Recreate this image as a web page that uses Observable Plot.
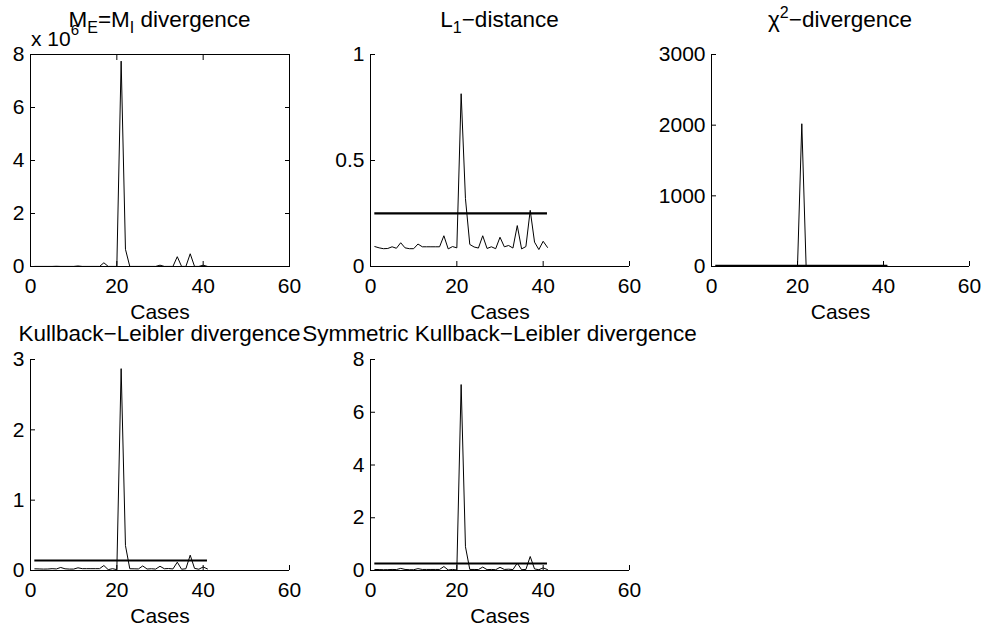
<!DOCTYPE html>
<html>
<head>
<meta charset="utf-8">
<script src="https://cdn.jsdelivr.net/npm/d3@7"></script>
<script src="https://cdn.jsdelivr.net/npm/@observablehq/plot@0.6"></script>
<style>
  body { margin: 0; background: #fff; }
  #chart { position: relative; width: 983px; height: 629px; background: #fff; overflow: hidden; }
  #chart svg { position: absolute; left: 0; top: 0; }
</style>
</head>
<body>
<div id="chart"></div>
<script>
// ---------- data ----------
const cases = d3.range(1, 42); // cases 1..41

// M_E = M_I divergence (values in units of 10^6)
const meMiDivergence = [0.003, 0.003, 0.003, 0.003, 0.003, 0.01, 0.003, 0.003, 0.003, 0.003,
  0.02, 0.003, 0.003, 0.003, 0.003, 0.003, 0.14, 0.003, 0.003, 0.003,
  7.75, 0.65, 0.003, 0.003, 0.003, 0.003, 0.003, 0.003, 0.003, 0.05,
  0.003, 0.003, 0.003, 0.37, 0.003, 0.003, 0.48, 0.003, 0.003, 0.05, 0.003];

const l1Distance = [0.094, 0.088, 0.084, 0.085, 0.093, 0.086, 0.112, 0.088, 0.084, 0.084,
  0.106, 0.093, 0.093, 0.093, 0.093, 0.093, 0.145, 0.083, 0.094, 0.088,
  0.815, 0.32, 0.104, 0.092, 0.087, 0.145, 0.085, 0.093, 0.084, 0.138,
  0.093, 0.099, 0.087, 0.193, 0.083, 0.094, 0.265, 0.115, 0.080, 0.119, 0.090];
const l1Threshold = 0.251;

const chi2Divergence = [3, 3, 2, 2, 3, 2, 4, 3, 2, 2,
  4, 3, 3, 3, 3, 3, 5, 2, 3, 2,
  2020, 12, 3, 3, 2, 5, 2, 3, 2, 5,
  3, 3, 2, 6, 2, 3, 9, 4, 2, 4, 3];
const chi2Threshold = 8;

const klDivergence = [0.024, 0.022, 0.020, 0.021, 0.026, 0.022, 0.043, 0.024, 0.020, 0.020,
  0.038, 0.026, 0.026, 0.026, 0.026, 0.026, 0.071, 0.012, 0.026, 0.012,
  2.87, 0.355, 0.025, 0.024, 0.022, 0.065, 0.021, 0.025, 0.020, 0.060,
  0.025, 0.028, 0.022, 0.118, 0.018, 0.025, 0.218, 0.030, 0.018, 0.050, 0.022];
const klThreshold = 0.142;

const symKlDivergence = [0.04, 0.035, 0.03, 0.032, 0.04, 0.035, 0.08, 0.04, 0.03, 0.03,
  0.07, 0.04, 0.04, 0.04, 0.04, 0.04, 0.15, 0.02, 0.04, 0.02,
  7.05, 0.9, 0.04, 0.04, 0.035, 0.13, 0.033, 0.04, 0.03, 0.12,
  0.04, 0.05, 0.035, 0.28, 0.03, 0.04, 0.53, 0.06, 0.03, 0.10, 0.035];
const symKlThreshold = 0.265;

const xTicks = [0, 20, 40, 60];
const meMiTicks = [0, 2, 4, 6, 8];
const l1Ticks = [0, 0.5, 1];
const chi2Ticks = [0, 1000, 2000, 3000];
const klTicks = [0, 1, 2, 3];
const symKlTicks = [0, 2, 4, 6, 8];
const xLabel = "Cases";

// ---------- layout ----------
const W = 983, H = 629;
const FONT = "'Liberation Sans', Arial, Helvetica, sans-serif";
const panels = [
  {values: meMiDivergence, threshold: null, yTicks: meMiTicks, box: true,
   frame: {left: 30, right: 289, top: 54, bottom: 266}},
  {values: l1Distance, threshold: l1Threshold, yTicks: l1Ticks, box: false,
   frame: {left: 370, right: 629, top: 54, bottom: 266}},
  {values: chi2Divergence, threshold: chi2Threshold, yTicks: chi2Ticks, box: false,
   frame: {left: 711, right: 969, top: 54, bottom: 266}},
  {values: klDivergence, threshold: klThreshold, yTicks: klTicks, box: false,
   frame: {left: 30, right: 289, top: 359, bottom: 570}},
  {values: symKlDivergence, threshold: symKlThreshold, yTicks: symKlTicks, box: false,
   frame: {left: 370, right: 629, top: 359, bottom: 570}}
];

const chart = document.getElementById("chart");

for (const p of panels) {
  const data = cases.map((c, i) => ({c, v: p.values[i]}));
  const yDomain = [p.yTicks[0], p.yTicks[p.yTicks.length - 1]];
  const marks = [];
  if (p.threshold != null) {
    marks.push(Plot.ruleY([p.threshold], {x1: cases[0], x2: cases[cases.length - 1], stroke: "black", strokeWidth: 2.2}));
  }
  marks.push(Plot.line(data, {x: "c", y: "v", stroke: "black", strokeWidth: 1}));
  if (p.box) {
    marks.push(Plot.frame({stroke: "black", strokeWidth: 1}));
    marks.push(Plot.axisX({anchor: "top", ticks: xTicks, tickSize: -5, text: null, label: null}));
    marks.push(Plot.axisY({anchor: "right", ticks: p.yTicks, tickSize: -5, text: null, label: null}));
  } else {
    marks.push(Plot.ruleX([0], {stroke: "black", strokeWidth: 1}));
    marks.push(Plot.ruleY([yDomain[0]], {stroke: "black", strokeWidth: 1}));
  }
  // inward tick marks
  marks.push(Plot.axisX({anchor: "bottom", ticks: xTicks, tickSize: -5, text: null, label: null}));
  marks.push(Plot.axisY({anchor: "left", ticks: p.yTicks, tickSize: -5, text: null, label: null}));
  // tick labels
  marks.push(Plot.axisX({anchor: "bottom", ticks: xTicks, tickSize: 0, tickPadding: 12, tickFormat: d => String(d), label: null}));
  marks.push(Plot.axisY({anchor: "left", ticks: p.yTicks, tickSize: 0, tickPadding: 6, tickFormat: d => String(d), label: null}));
  // x label
  marks.push(Plot.text([xLabel], {frameAnchor: "bottom", dy: 52, fontSize: 21, fontWeight: "normal", fill: "black", stroke: "none"}));

  const svg = Plot.plot({
    width: W, height: H,
    marginLeft: p.frame.left, marginRight: W - p.frame.right,
    marginTop: p.frame.top, marginBottom: H - p.frame.bottom,
    x: {domain: [0, 60]},
    y: {domain: yDomain},
    style: {background: "transparent", fontFamily: FONT, fontSize: "21px", color: "black", overflow: "visible"},
    marks
  });
  chart.appendChild(svg);
}

// ---------- titles (real text with sub/superscripts) ----------
const titles = [
  {x: 159.5, y: 27, parts: [["M"], ["E", "sub"], ["=M"], ["I", "sub"], [" divergence"]]},
  {x: 499.5, y: 27, parts: [["L"], ["1", "sub"], ["\u2212distance"]]},
  {x: 840, y: 27, parts: [["\u03c7"], ["2", "sup"], ["\u2212divergence"]]},
  {x: 159.5, y: 341, parts: [["Kullback\u2212Leibler divergence"]]},
  {x: 499.5, y: 341, parts: [["Symmetric Kullback\u2212Leibler divergence"]]}
];
const overlay = d3.select(chart).append("svg")
  .attr("width", W).attr("height", H)
  .style("font-family", FONT).style("font-size", "22.5px");
for (const t of titles) {
  const text = overlay.append("text").attr("x", t.x).attr("y", t.y)
    .attr("text-anchor", "middle").attr("fill", "black");
  let shift = 0;
  for (const [s, kind] of t.parts) {
    const target = kind === "sub" ? 6 : kind === "sup" ? -9 : 0;
    const span = text.append("tspan").text(s).attr("dy", target - shift);
    if (kind) span.attr("font-size", "16px");
    shift = target;
  }
}
// exponent label of the first panel
const expo = overlay.append("text").attr("x", 31).attr("y", 46).attr("fill", "black").attr("font-size", "21px");
expo.append("tspan").text("x 10");
expo.append("tspan").text("6").attr("font-size", "15px").attr("dy", -11);
</script>
</body>
</html>
